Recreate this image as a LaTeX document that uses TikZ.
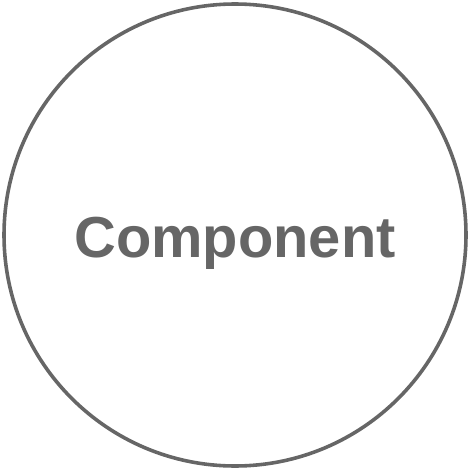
\documentclass[tikz,border=0pt]{standalone}
\usepackage{fontspec}
\setmainfont{Liberation Sans}
\usepackage{xcolor}
\definecolor{cgray}{HTML}{666666}
\tikzset{
  compcircle/.style={draw=cgray, line width=2.6pt, circle, inner sep=0pt,
                     minimum size=462*0.025532cm},
  complabel/.style={text=cgray, font=\fontsize{42}{48}\selectfont\bfseries, inner sep=0pt},
}
\begin{document}
\begin{tikzpicture}[x=0.025532cm, y=-0.025532cm]
  \useasboundingbox (0,0) rectangle (470,470);
  % outer circle
  \node[compcircle] (ring) at (235,235) {};
  \node[complabel, anchor=base] (comp) at (235,257) {Component};
\end{tikzpicture}
\end{document}
